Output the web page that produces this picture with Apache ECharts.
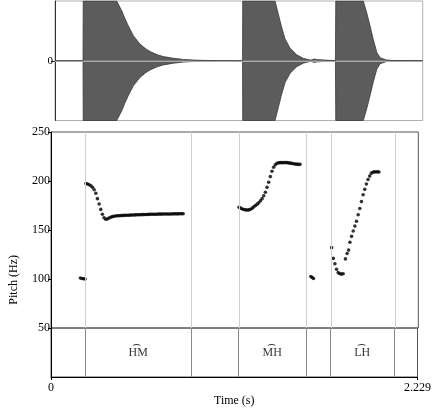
<!DOCTYPE html>
<html><head><meta charset="utf-8">
<script src="https://cdn.jsdelivr.net/npm/echarts@6/dist/echarts.min.js"></script>
<style>html,body{margin:0;padding:0;background:#fff}#c{width:434px;height:408px}</style>
</head><body><div id="c"></div>
<script>
// ---- data ----
const duration = 2.229;
// waveform amplitude envelope (time s, relative amplitude)
const waveTimes = [0, 0.170, 0.171, 0.374, 0.404, 0.425, 0.445, 0.475, 0.515, 0.550, 0.576, 0.620, 0.657, 0.720, 0.778, 0.840, 0.899, 1.000, 1.137,
  1.138, 1.334, 1.354, 1.374, 1.394, 1.425, 1.465, 1.505, 1.550, 1.562, 1.572, 1.585, 1.596, 1.700,
  1.702, 1.869, 1.890, 1.910, 1.930, 1.951, 1.971, 2.011, 2.060, 2.229];
const waveAmps = [0, 0, 1, 1, 0.84, 0.70, 0.58, 0.42, 0.28, 0.20, 0.155, 0.10, 0.07, 0.04, 0.022, 0.012, 0.006, 0.002, 0,
  1, 1, 0.78, 0.56, 0.37, 0.21, 0.10, 0.04, 0.01, 0.035, 0.03, 0.02, 0, 0,
  1, 1, 0.80, 0.58, 0.35, 0.14, 0.05, 0.012, 0.003, 0];

// pitch track segments: [time s, Hz]
const pitch1 = [[0.178,101],[0.188,100.5],[0.198,100.3],[0.207,100]];
const pitch2 = [[0.212,197.5],[0.222,197],[0.232,196.2],[0.242,195.2],[0.252,193.5],[0.262,191],[0.272,187.5],[0.282,182],
  [0.292,176.5],[0.302,171],[0.312,166],[0.322,162.5],[0.332,161],[0.342,161.3],[0.352,162.2],[0.362,163],[0.372,163.6],
  [0.382,164],[0.392,164.3],[0.402,164.5],[0.412,164.6],[0.422,164.7],[0.432,164.8],[0.442,164.9],[0.452,165],[0.462,165],
  [0.472,165.1],[0.482,165.2],[0.492,165.3],[0.502,165.3],[0.512,165.4],[0.522,165.5],[0.532,165.5],[0.542,165.6],
  [0.552,165.7],[0.562,165.7],[0.572,165.8],[0.582,165.8],[0.592,165.9],[0.602,166],[0.612,166],[0.622,166],[0.632,166.1],
  [0.642,166.1],[0.652,166.2],[0.662,166.2],[0.672,166.2],[0.682,166.3],[0.692,166.3],[0.702,166.3],[0.712,166.4],
  [0.722,166.4],[0.732,166.4],[0.742,166.5],[0.752,166.5],[0.762,166.5],[0.772,166.5],[0.782,166.6],[0.792,166.6],[0.802,166.6]];
const pitch3 = [[1.141,173.2],[1.151,172.3],[1.161,171.5],[1.171,170.9],[1.181,170.5],[1.191,170.4],[1.201,170.5],[1.211,171.2],
  [1.221,172.3],[1.231,173.6],[1.241,175],[1.251,176.4],[1.261,177.8],[1.271,179.8],[1.281,182],[1.291,185],[1.301,188.5],
  [1.311,193.5],[1.321,198.7],[1.331,204.5],[1.341,210],[1.351,214],[1.361,216.5],[1.371,218],[1.381,218.5],[1.391,218.7],
  [1.401,218.7],[1.411,218.7],[1.421,218.8],[1.431,218.7],[1.441,218.5],[1.451,218.2],[1.461,218],[1.471,217.6],
  [1.481,217.3],[1.491,217.2],[1.501,217],[1.511,217]];
const pitch4 = [[1.577,102.5],[1.585,101.5],[1.593,100.5]];
const pitch5 = [[1.703,132],[1.713,121],[1.723,115.5],[1.733,110],[1.743,106.5],[1.753,105.3],[1.763,105],[1.773,105.4],
  [1.787,120.5],[1.797,126],[1.806,129.5],[1.814,137.5],[1.824,143.5],[1.834,149],[1.844,154],[1.854,159],[1.864,165.5],
  [1.874,172],[1.884,179],[1.894,186],[1.904,191.5],[1.914,197],[1.924,201.5],[1.934,205],[1.944,208],[1.954,209],
  [1.962,209.5],[1.972,209.2],[1.982,209.5],[1.990,209.2]];

// text grid tier
const boundaries = [0.2105, 0.8495, 1.1366, 1.555, 1.697, 2.089];
const tierLabels = [
  {start: 0.2105, end: 0.8495, text: 'H\u0361M'},
  {start: 1.1366, end: 1.555, text: 'M\u0361H'},
  {start: 1.697, end: 2.089, text: 'L\u0361H'}
];
const pitchTicks = [50, 100, 150, 200, 250];
const timeTicks = [0, 2.229];

// ---- chart ----
const FONT = "'Liberation Serif', 'DejaVu Serif', serif";
const chart = echarts.init(document.getElementById('c'), null, {renderer: 'canvas'});
const pitchAll = [].concat(pitch1, pitch2, pitch3, pitch4, pitch5);
const upper = waveTimes.map((t, i) => [t, waveAmps[i]]);
const lower = waveTimes.map((t, i) => [t, -waveAmps[i]]);

chart.setOption({
  animation: false,
  grid: [
    {left: 55, top: 1, width: 367.7, height: 119.5, show: true, borderColor: '#b0b0b0', borderWidth: 1},
    {left: 51, top: 132, width: 367.3, height: 196, show: true, borderColor: '#555', borderWidth: 1},
    {left: 51, top: 328, width: 367.3, height: 49, show: true, borderColor: '#555', borderWidth: 1}
  ],
  xAxis: [
    {gridIndex: 0, type: 'value', min: 0, max: duration, show: false},
    {gridIndex: 1, type: 'value', min: 0, max: duration, show: false},
    {gridIndex: 2, type: 'value', min: 0, max: duration,
      axisLine: {show: true, lineStyle: {color: '#000'}},
      axisTick: {show: true, length: 3, customValues: timeTicks, lineStyle: {color: '#000'}},
      axisLabel: {show: true, customValues: timeTicks, margin: 5, fontFamily: FONT, fontSize: 12, color: '#000',
        formatter: v => String(v)},
      splitLine: {show: false},
      name: 'Time (s)', nameLocation: 'middle', nameGap: 16,
      nameTextStyle: {fontFamily: FONT, fontSize: 12, color: '#000'}}
  ],
  yAxis: [
    {gridIndex: 0, type: 'value', min: -1, max: 1,
      axisLine: {show: true, lineStyle: {color: '#333'}},
      axisTick: {show: true, length: 4, customValues: [0], lineStyle: {color: '#333'}},
      axisLabel: {show: true, customValues: [0], margin: 2, fontFamily: FONT, fontSize: 11, color: '#000'},
      splitLine: {show: false}},
    {gridIndex: 1, type: 'value', min: 50, max: 250, interval: 50,
      axisLine: {show: true, lineStyle: {color: '#000'}},
      axisTick: {show: true, length: 3, lineStyle: {color: '#000'}},
      axisLabel: {show: true, margin: 1, fontFamily: FONT, fontSize: 12, color: '#000'},
      splitLine: {show: false}},
    {gridIndex: 2, type: 'value', min: 0, max: 1,
      axisLine: {show: true, lineStyle: {color: '#000'}},
      axisTick: {show: false}, axisLabel: {show: false}, splitLine: {show: false}}
  ],
  graphic: [
    {type: 'text', left: 8, top: 255, rotation: Math.PI / 2, originX: 0, originY: 0,
      style: {text: 'Pitch (Hz)', font: "12px 'Liberation Serif'", fill: '#000', align: 'center', verticalAlign: 'middle'},
      x: 15, y: 255}
  ],
  series: [
    {type: 'line', xAxisIndex: 0, yAxisIndex: 0, data: upper, showSymbol: false, silent: true,
      lineStyle: {color: '#3a3a3a', width: 0.8}, areaStyle: {color: '#5c5c5c', opacity: 1},
      markLine: {silent: true, symbol: 'none', label: {show: false}, lineStyle: {color: '#aaa', type: 'solid', width: 1},
        data: [{yAxis: 0}]}},
    {type: 'line', xAxisIndex: 0, yAxisIndex: 0, data: lower, showSymbol: false, silent: true,
      lineStyle: {color: '#3a3a3a', width: 0.8}, areaStyle: {color: '#5c5c5c', opacity: 1}},
    {type: 'scatter', xAxisIndex: 1, yAxisIndex: 1, data: pitchAll, symbolSize: 3.6, silent: true,
      itemStyle: {color: '#000'},
      markLine: {silent: true, symbol: 'none', label: {show: false}, lineStyle: {color: '#cfcfcf', type: 'solid', width: 1},
        data: boundaries.map(b => ({xAxis: b}))}},
    {type: 'scatter', xAxisIndex: 2, yAxisIndex: 2, symbolSize: 0, silent: true,
      data: tierLabels.map(l => ({value: [(l.start + l.end) / 2, 0.5], name: l.text})),
      label: {show: true, position: 'inside', formatter: p => p.name, fontFamily: FONT, fontSize: 12, color: '#000'},
      markLine: {silent: true, symbol: 'none', label: {show: false}, lineStyle: {color: '#8a8a8a', type: 'solid', width: 1},
        data: boundaries.map(b => ({xAxis: b}))}}
  ]
});
</script></body></html>
